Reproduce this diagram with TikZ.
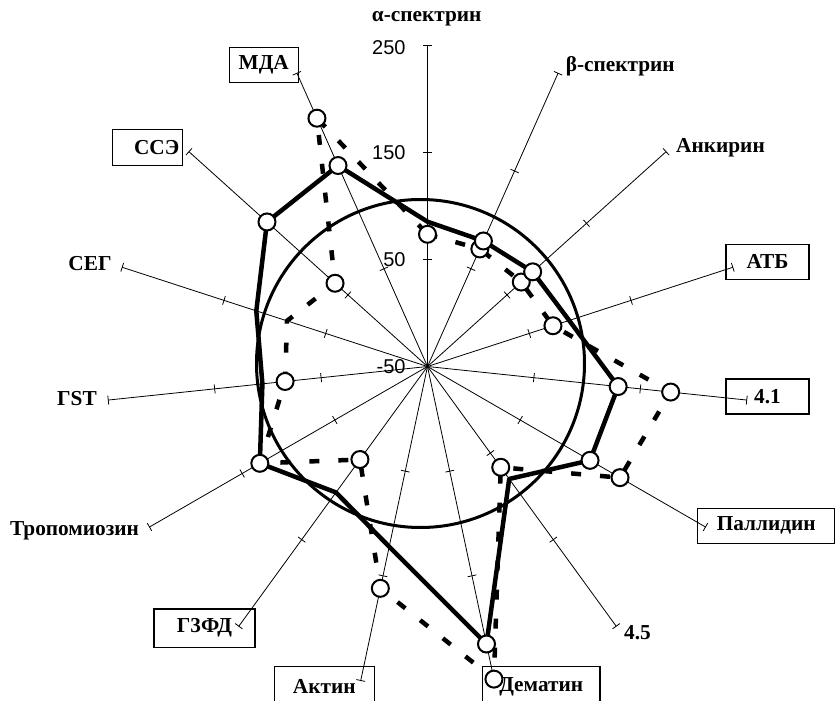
\documentclass[tikz,border=0pt]{standalone}
\usepackage{fontspec}
\setmainfont{Liberation Serif}
\newfontfamily\numfont{Liberation Sans}
\usetikzlibrary{calc}
\begin{document}
\begin{tikzpicture}[x=1pt,y=1pt,
  axisline/.style={line width=0.8pt},
  lab/.style={font=\bfseries\fontsize{21.3}{24}\selectfont, inner sep=0pt},
  lbox/.style={draw, line width=1.5pt, inner sep=2pt, minimum height=35pt,
               font=\bfseries\fontsize{21.3}{24}\selectfont},
  num/.style={font=\numfont\fontsize{20}{24}\selectfont, inner sep=0pt, anchor=east},
  solidline/.style={line width=4.5pt, line join=round},
  dashline/.style={line width=4.5pt, dash pattern=on 10pt off 19pt},
  dot/.style={circle, draw, line width=2pt, fill=white, minimum size=17pt, inner sep=0pt},
  ring/.style={line width=3pt}]
\useasboundingbox (-427.5,-334.5) rectangle (407.5,366.5);
\clip (-427.5,-334.5) rectangle (407.5,366.5);
\coordinate (O) at (0,0);
% axes with ticks
\foreach \k in {0,...,14} {
  \pgfmathsetmacro\ang{90-24*\k}
  \coordinate (a\k) at (\ang:321);
  \draw[axisline] (O) -- (a\k);
  \foreach \r in {107,214,321} \draw[axisline,rotate=\ang] (\r,-4.5) -- (\r,4.5);
}
% scale numbers
\node[num] (n250) at (-21.8,318.5) {250};
\node[num] (n150) at (-21.8,213.5) {150};
\node[num] (n50)  at (-21.8,106.5) {50};
\node[num] (nm50) at (-21.8,-0.2) {-50};
% reference ring
\draw[ring] (-7,3) circle (164);
% data coordinates
\foreach \r [count=\i from 0] in {144.8,137.4,141.5,149,191.7,187.7,139,283.7,184.2,155.7,193.6,166,180,216,220}
  \coordinate (s\i) at ({90-24*\i}:\r);
\foreach \r [count=\i from 0] in {132.2,128.7,126.2,131.9,244.5,222.3,124.6,319.6,226.8,115,193.6,143.2,147.7,124.4,271.8}
  \coordinate (d\i) at ({90-24*\i}:\r);
\draw[dashline] (d0) -- (d1) -- (d2) -- (d3) -- (d4) -- (d5) -- (d6) -- (d7) -- (d8) -- (d9) -- (d10) -- (d11) -- (d12) -- (d13) -- (d14) -- cycle;
\draw[solidline] (s0) -- (s1) -- (s2) -- (s3) -- (s4) -- (s5) -- (s6) -- (s7) -- (s8) -- (s9) -- (s10) -- (s11) -- (s12) -- (s13) -- (s14) -- cycle;
\foreach \p in {d0,d1,d2,d3,d4,d5,d6,d7,d8,d9,d11,d13,d14,s1,s2,s4,s5,s7,s10,s13,s14}
  \node[dot] (m\p) at (\p) {};
% axis labels
\node[lab] (l0) at (-0.8,348.2) {α-спектрин};
\node[lab, anchor=west] (l1) at (138.2,300.5) {β-спектрин};
\node[lab, anchor=west] (l2) at (248.5,218.5) {Анкирин};
\node[lbox, minimum width=83pt] (l3) at (340,104.7) {АТБ};
\node[lbox, minimum width=83pt] (l4) at (340,-30.2) {4.1};
\node[lbox, minimum width=137.7pt] (l5) at (338.7,-159.3) {Паллидин};
\node[lab, anchor=west] (l6) at (196.5,-266) {4.5};
\node[lbox, minimum width=117.7pt, minimum height=40pt] (l7) at (113.7,-320.2) {Дематин};
\node[lbox, minimum width=100pt, minimum height=40pt] (l8) at (-103.2,-320.2) {Актин};
\node[lbox, minimum width=101pt, minimum height=38.3pt] (l9) at (-223,-261.7) {Г3ФД};
\node[lab] (l10) at (-353,-164.5) {Тропомиозин};
\node[lab] (l11) at (-350.5,-32.5) {ГST};
\node[lab] (l12) at (-337.5,102.5) {СЕГ};
\node[lbox, text width=64pt, align=right, minimum height=36.4pt, inner sep=3pt] (l13) at (-280.2,219) {ССЭ};
\node[lbox, minimum width=69pt] (l14) at (-163.7,301.3) {МДА};
\end{tikzpicture}
\end{document}
